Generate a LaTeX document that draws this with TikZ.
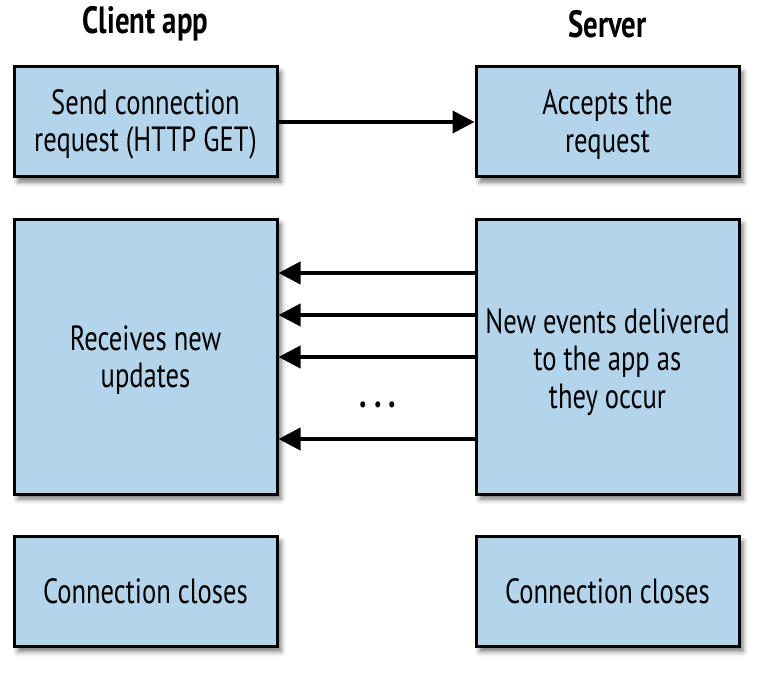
\documentclass[tikz,border=0pt]{standalone}
\usepackage{fontspec}
\setmainfont[FakeStretch=0.76]{PT Sans}
\usetikzlibrary{arrows.meta,shadows.blur}
\definecolor{boxblue}{RGB}{179,212,234}
\begin{document}
\begin{tikzpicture}[x=1pt,y=-1pt,
  box/.style={draw=black, line width=3pt, fill=boxblue, minimum width=263pt,
    align=center, font=\fontsize{35}{37.5}\selectfont, inner sep=0pt,
    blur shadow={shadow xshift=4pt, shadow yshift=-5pt, shadow blur radius=5pt, shadow opacity=55}},
  title/.style={font=\fontsize{38}{40}\selectfont\bfseries},
  arr/.style={line width=4pt, -{Triangle[length=22pt,width=22pt]}}]
\useasboundingbox (0,0) rectangle (766,674);
\node[title] (tc) at (145.5,24) {Client app};
\node[title] (ts) at (607.5,24) {Server};
\node[box, minimum height=110pt] (tl) at (145.5,122) {\rule{0pt}{30pt}Send connection\\request (HTTP GET)};
\node[box, minimum height=110pt] (tr) at (607.5,122) {\rule{0pt}{30pt}Accepts the\\request};
\node[box, minimum height=275pt] (ml) at (145.5,356.5) {\rule{0pt}{32pt}Receives new\\updates};
\node[box, minimum height=275pt] (mr) at (607.5,356.5) {\rule{0pt}{36pt}New events delivered\\to the app as\\they occur};
\node[box, minimum height=110pt] (bl) at (145.5,591.5) {Connection closes};
\node[box, minimum height=110pt] (br) at (607.5,591.5) {Connection closes};
\draw[arr] (tl.east) -- (tr.west);
\coordinate (y1) at (0,273);
\coordinate (y2) at (0,315);
\coordinate (y3) at (0,357);
\coordinate (y4) at (0,439);
\draw[arr] (mr.west |- y1) -- (ml.east |- y1);
\draw[arr] (mr.west |- y2) -- (ml.east |- y2);
\draw[arr] (mr.west |- y3) -- (ml.east |- y3);
\draw[arr] (mr.west |- y4) -- (ml.east |- y4);
\node[font=\fontsize{40}{40}\selectfont\bfseries, inner sep=0pt] (dots) at (378,405) {.\kern7pt.\kern7pt.};
\end{tikzpicture}
\end{document}
